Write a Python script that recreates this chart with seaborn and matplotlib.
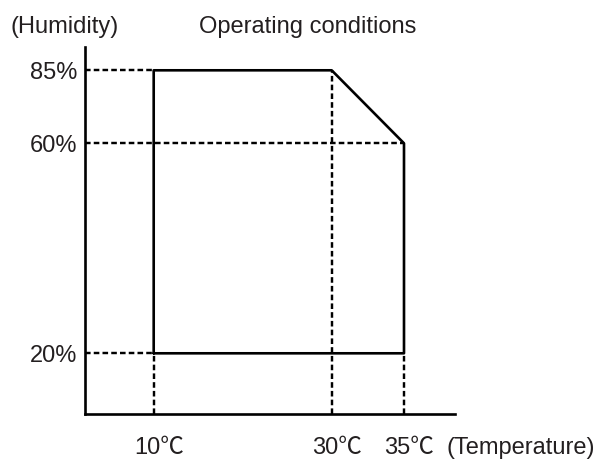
import numpy as np
import pandas as pd
import matplotlib
matplotlib.use("Agg")
import matplotlib.pyplot as plt
import matplotlib.transforms as mtransforms
import seaborn as sns

# Operating envelope (temperature in deg C, relative humidity in %)
temp_ticks = [10, 30, 35]
humidity_ticks = [20, 60, 85]
temp_tick_labels = ["10℃", "30℃", "35℃"]
humidity_tick_labels = ["20%", "60%", "85%"]

envelope_temp = [10, 10, 30, 35, 35, 10]
envelope_humidity = [20, 85, 85, 60, 20, 20]

sns.set_theme(style="white")
plt.rcParams["font.family"] = ["Liberation Sans", "Noto Sans CJK JP", "DejaVu Sans"]
TEXT = "#231f20"

W, H, DPI = 600, 459, 100
fig = plt.figure(figsize=(W / DPI, H / DPI), dpi=DPI)

# Axes frame in figure pixels
x0_px, x1_px = 85.5, 455.0
ytop_px, ybot_px = 47.0, 413.7
ax = fig.add_axes([x0_px / W, (H - ybot_px) / H,
                   (x1_px - x0_px) / W, (ybot_px - ytop_px) / H])

# Schematic (non-uniform) axes: piecewise-linear scales
x_data_bp = [0, 10, 30, 35, 40]
x_px_bp = [85.5, 153.7, 331.7, 404.0, 455.0]
y_data_bp = [0, 20, 60, 85, 95]
y_px_bp = [H - 413.7, H - 353.3, H - 143.3, H - 70.3, H - 47.0]


def make_scale(dbp, pbp):
    def fwd(v):
        return np.interp(v, dbp, pbp)

    def inv(v):
        return np.interp(v, pbp, dbp)
    return fwd, inv


ax.set_xscale("function", functions=make_scale(x_data_bp, x_px_bp))
ax.set_yscale("function", functions=make_scale(y_data_bp, y_px_bp))
ax.set_xlim(0, 40)
ax.set_ylim(0, 95)

dash = (0, (2.3, 1.3))
guide_kw = dict(color="black", lw=1.75, linestyle=dash,
                dash_capstyle="butt", zorder=2)

# Horizontal guides from the humidity axis
ax.plot([0, 10], [85, 85], **guide_kw)
ax.plot([0, 35], [60, 60], **guide_kw)
ax.plot([0, 10], [20, 20], **guide_kw)
# Vertical guides from the temperature axis
ax.plot([10, 10], [0, 20], **guide_kw)
ax.plot([30, 30], [0, 85], **guide_kw)
ax.plot([35, 35], [0, 20], **guide_kw)

# Envelope outline
env = pd.DataFrame({"temp": envelope_temp, "humidity": envelope_humidity})
sns.lineplot(data=env, x="temp", y="humidity", sort=False, estimator=None,
             color="black", lw=1.9, ax=ax, zorder=3)

# Axis styling
for side in ["top", "right"]:
    ax.spines[side].set_visible(False)
for side in ["left", "bottom"]:
    ax.spines[side].set_color("black")
    ax.spines[side].set_linewidth(1.9)

ax.set_xticks(temp_ticks)
ax.set_xticklabels(temp_tick_labels)
ax.set_yticks(humidity_ticks)
ax.set_yticklabels(humidity_tick_labels)
ax.tick_params(axis="both", length=0, labelsize=17, colors=TEXT)
ax.tick_params(axis="x", pad=17)
ax.tick_params(axis="y", pad=6)
ax.set_xlabel("")
ax.set_ylabel("")

shift = mtransforms.ScaledTranslation(5 / DPI, 0, fig.dpi_scale_trans)
for lab in ax.get_xticklabels():
    lab.set_transform(lab.get_transform() + shift)

fig.text(10 / W, 1 - 33 / H, "(Humidity)", fontsize=17, color=TEXT,
         ha="left", va="baseline")
fig.text(308 / W, 1 - 33 / H, "Operating conditions", fontsize=17,
         color=TEXT, ha="center", va="baseline")
fig.text(447 / W, 1 - 454 / H, "(Temperature)", fontsize=17, color=TEXT,
         ha="left", va="baseline")

fig.savefig("out.png", dpi=DPI)
